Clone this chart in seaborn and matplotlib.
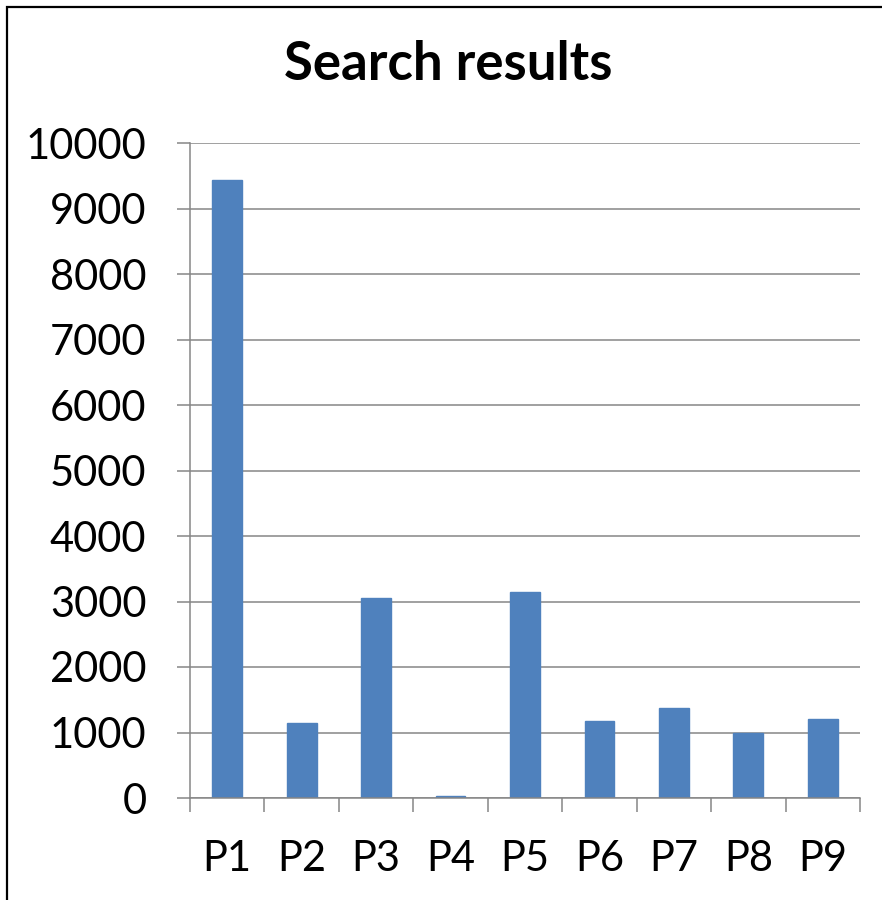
import matplotlib
matplotlib.use("Agg")
import matplotlib.pyplot as plt
import seaborn as sns
import pandas as pd
import numpy as np
from matplotlib.patches import Rectangle

categories = ["P1", "P2", "P3", "P4", "P5", "P6", "P7", "P8", "P9"]
values = [9440, 1150, 3060, 30, 3140, 1175, 1370, 1000, 1210]
yticks = [0, 1000, 2000, 3000, 4000, 5000, 6000, 7000, 8000, 9000, 10000]
title = "Search results"

sns.set_style("white")
plt.rcParams['font.family'] = ['Lato', 'DejaVu Sans']
plt.rcParams['text.color'] = 'black'
plt.rcParams['xtick.labelcolor'] = 'black'
plt.rcParams['ytick.labelcolor'] = 'black'

df = pd.DataFrame({"cat": categories, "val": values})

fig = plt.figure(figsize=(8.82, 9.0), dpi=100)
ax = fig.add_axes([190/882, 1-798/900, (860-190)/882, (798-143)/900])

sns.barplot(data=df, x="cat", y="val", color="#4F81BD", width=0.4,
            saturation=1, ax=ax, edgecolor="#4F81BD")

grid_c = "#868686"
ax.set_ylim(0, 10000)
ax.set_xlim(-0.5, len(categories) - 0.5)
ax.set_yticks(yticks)
ax.set_yticklabels([str(v) for v in yticks])
ax.yaxis.grid(True, color=grid_c, linewidth=1.1)
ax.set_axisbelow(True)
ax.set_xlabel("")
ax.set_ylabel("")

for s in ["top", "right"]:
    ax.spines[s].set_visible(False)
for s in ["left", "bottom"]:
    ax.spines[s].set_color(grid_c)
    ax.spines[s].set_linewidth(1.1)

ax.tick_params(axis="y", which="major", length=9.4, width=1.1, color=grid_c,
               labelsize=30, pad=22, left=True, labelcolor="black")
ax.tick_params(axis="x", which="major", length=0, labelsize=30, pad=30,
               labelcolor="black")
ax.set_xticks(np.arange(-0.5, len(categories), 1.0), minor=True)
ax.tick_params(axis="x", which="minor", length=10, width=1.1, color=grid_c,
               bottom=True)

fig.text(448/882, 1-65/900, title, ha="center", va="center",
         fontsize=38, fontweight="bold", color="black")

fig.patches.append(Rectangle((7/882, -0.1), 1.2, 1-7/900+0.1,
                             transform=fig.transFigure, fill=False,
                             edgecolor="black", linewidth=1.6, zorder=10))

fig.savefig("out.png", dpi=100)
